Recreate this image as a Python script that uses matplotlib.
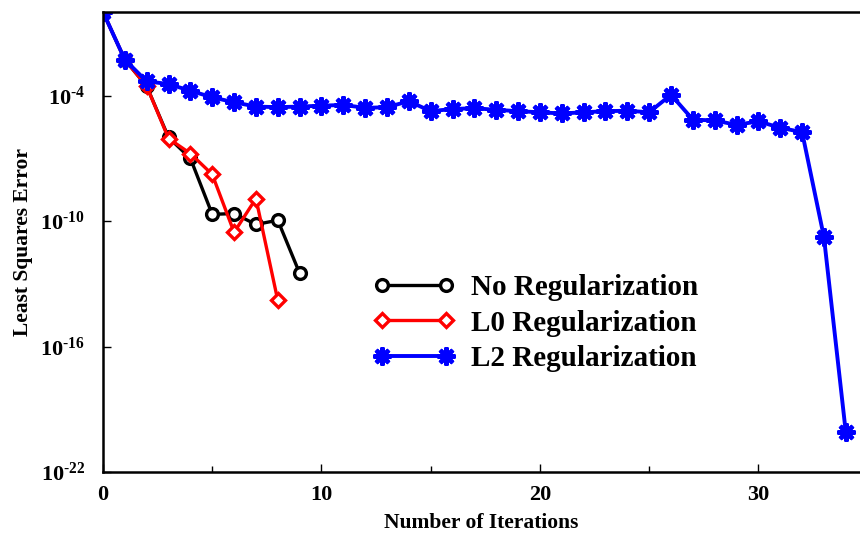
import numpy as np
import matplotlib
matplotlib.use("Agg")
import matplotlib.pyplot as plt

plt.rcParams['font.family'] = ['Liberation Serif', 'DejaVu Serif']
plt.rcParams['font.weight'] = 'bold'
plt.rcParams['mathtext.fontset'] = 'custom'
plt.rcParams['mathtext.rm'] = 'Liberation Serif:bold'
plt.rcParams['mathtext.it'] = 'Liberation Serif:italic:bold'
plt.rcParams['mathtext.bf'] = 'Liberation Serif:bold'

# least squares error per iteration
err_none = [1.0, 5.2e-3, 2.8e-4, 1.0e-6, 1.0e-7, 2.1e-10, 2.3e-10, 6.9e-11, 1.1e-10, 3.2e-13]
err_l0 = [1.0, 5.2e-3, 2.8e-4, 8.9e-7, 1.7e-7, 1.7e-8, 2.9e-11, 1.2e-9, 1.6e-14]
err_l2 = [1.0, 5.2e-3, 4.8e-4, 3.6e-4, 1.7e-4, 8.3e-5, 4.8e-5, 3.0e-5, 2.8e-5, 3.0e-5,
          3.3e-5, 3.6e-5, 2.6e-5, 2.8e-5, 5.4e-5, 1.8e-5, 2.3e-5, 2.5e-5, 2.1e-5, 1.8e-5,
          1.6e-5, 1.4e-5, 1.6e-5, 1.8e-5, 1.9e-5, 1.6e-5, 1.1e-4, 7.1e-6, 6.5e-6, 4.0e-6,
          5.9e-6, 2.9e-6, 1.8e-6, 1.7e-11, 7.9e-21]

labels = ['No Regularization', 'L0 Regularization', 'L2 Regularization']
y_ticks = [1e-4, 1e-10, 1e-16, 1e-22]
y_tick_labels = ['$10^{\\text{-4}}$', '$10^{\\text{-10}}$', '$10^{\\text{-16}}$', '$10^{\\text{-22}}$']
x_ticks = [0, 10, 20, 30]

fig = plt.figure(figsize=(8.6, 5.33), dpi=100)
ax = fig.add_axes([0.1198, 0.1144, 0.8802, 0.8631])

ax.plot(np.arange(len(err_none)), err_none, color='black', lw=2.4, marker='o',
        ms=8.5, mfc='white', mec='black', mew=2.4, label=labels[0])
ax.plot(np.arange(len(err_l0)), err_l0, color='red', lw=2.4, marker='D',
        ms=7, mfc='white', mec='red', mew=2.4, label=labels[1])
ax.plot(np.arange(len(err_l2)), err_l2, color='blue', lw=2.8, marker=(8, 2, 0),
        ms=13, mec='blue', mew=3, label=labels[2])

ax.set_yscale('log')
ax.set_ylim(1e-22, 1e0)
ax.set_xlim(0, 34.65)
ax.set_yticks(y_ticks, y_tick_labels)
ax.minorticks_off()
ax.set_xticks(x_ticks)
ax.set_xticks([5, 15, 25], minor=True)
ax.tick_params(axis='both', which='both', direction='in', labelsize=16)
ax.tick_params(axis='x', which='major', length=6, width=1, pad=9)
ax.tick_params(axis='x', which='minor', length=4, width=1)
ax.tick_params(axis='y', which='major', length=6, width=1, pad=13)
for lab in ax.get_xticklabels():
    lab.set_fontweight('bold')

ax.spines['right'].set_visible(False)
for s in ['left', 'bottom', 'top']:
    ax.spines[s].set_linewidth(1.8)

ax.set_xlabel('Number of Iterations', fontsize=15.5, fontweight='bold', labelpad=6)
ax.set_ylabel('Least Squares Error', fontsize=15.5, fontweight='bold', labelpad=5)

leg = ax.legend(loc='upper left', bbox_to_anchor=(0.342, 0.455), frameon=False,
                fontsize=21, numpoints=2, handlelength=2.8, handletextpad=0.55,
                labelspacing=0.28, borderaxespad=0)
for t in leg.get_texts():
    t.set_fontweight('bold')

fig.savefig('out.png', dpi=100)
